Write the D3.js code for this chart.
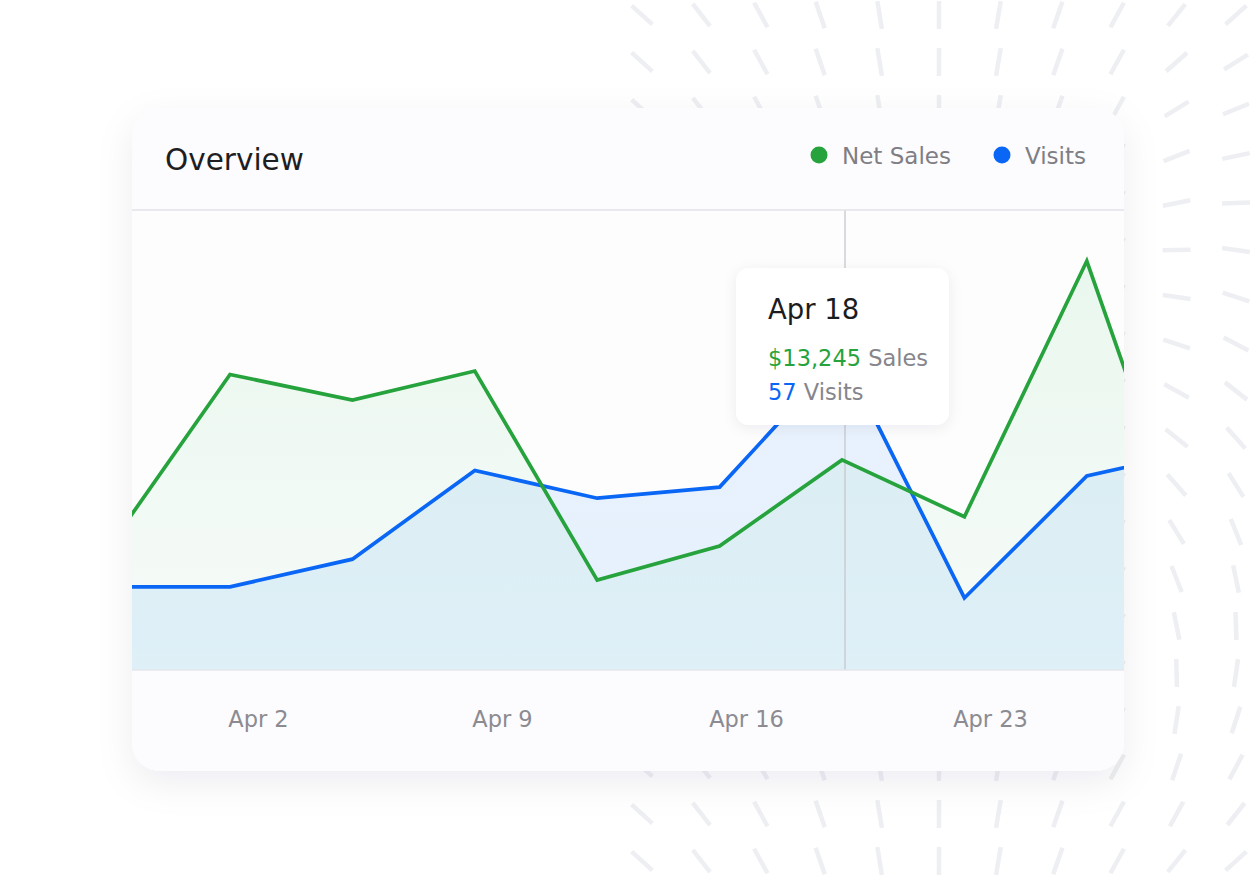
<!DOCTYPE html>
<html>
<head>
<meta charset="utf-8">
<script src="https://cdn.jsdelivr.net/npm/d3@7"></script>
<style>
  html, body { margin: 0; padding: 0; background: #ffffff; }
  svg { display: block; font-family: "DejaVu Sans", "Noto Sans", sans-serif; }
</style>
</head>
<body>
<svg id="chart" width="1256" height="880"></svg>
<script>
// ---------------- data ----------------
const pointIndex = [0, 1, 2, 3, 4, 5, 6, 7, 8, 9];
const netSales   = [7640, 18630, 17020, 18850, 5670, 7820, 13245, 9660, 25780, 3720];
const visits     = [15, 15, 20, 36, 31, 33, 57, 13, 35, 40];
const tickLabels = ["Apr 2", "Apr 9", "Apr 16", "Apr 23"];
const seriesNames = ["Net Sales", "Visits"];
const highlightIndex = 6;
const highlightLabel = "Apr 18";

// ---------------- layout ----------------
const W = 1256, H = 880;
const card = { x: 132, y: 108, w: 992, h: 663, r: 28 };
const plot = { left: 132, right: 1124, top: 210, bottom: 670 };
const colors = { sales: "#27a33d", visits: "#0a66f4" };

const svg = d3.select("#chart");
const defs = svg.append("defs");

// shadows
const cardShadow = defs.append("filter").attr("id", "cardShadow")
  .attr("x", "-10%").attr("y", "-10%").attr("width", "120%").attr("height", "125%");
cardShadow.append("feDropShadow").attr("dx", 0).attr("dy", 12)
  .attr("stdDeviation", 18).attr("flood-color", "#1a1a40").attr("flood-opacity", 0.07);

const tipShadow = defs.append("filter").attr("id", "tipShadow")
  .attr("x", "-20%").attr("y", "-20%").attr("width", "140%").attr("height", "150%");
tipShadow.append("feDropShadow").attr("dx", 0).attr("dy", 3)
  .attr("stdDeviation", 7).attr("flood-color", "#1a1a40").attr("flood-opacity", 0.07);

// gradients
const gGreen = defs.append("linearGradient").attr("id", "gGreen")
  .attr("gradientUnits", "userSpaceOnUse").attr("x1", 0).attr("x2", 0)
  .attr("y1", plot.top).attr("y2", plot.bottom);
gGreen.append("stop").attr("offset", 0).attr("stop-color", "rgb(40,190,80)").attr("stop-opacity", 0.10);
gGreen.append("stop").attr("offset", 1).attr("stop-color", "rgb(40,190,80)").attr("stop-opacity", 0.03);

const gBlue = defs.append("linearGradient").attr("id", "gBlue")
  .attr("gradientUnits", "userSpaceOnUse").attr("x1", 0).attr("x2", 0)
  .attr("y1", plot.top).attr("y2", plot.bottom);
gBlue.append("stop").attr("offset", 0).attr("stop-color", "rgb(0,100,255)").attr("stop-opacity", 0.065);
gBlue.append("stop").attr("offset", 1).attr("stop-color", "rgb(0,135,235)").attr("stop-opacity", 0.10);

defs.append("clipPath").attr("id", "plotClip")
  .append("rect").attr("x", plot.left).attr("y", plot.top)
  .attr("width", plot.right - plot.left).attr("height", plot.bottom - plot.top);

// ---------------- background dashes ----------------
const dashCols = d3.range(11).map(i => 642 + i * 59.4);
const dashRows = d3.range(19).map(i => 15 + i * 47);
const dashes = [];
dashRows.forEach(y => dashCols.forEach(x => {
  const u = (x - 938) / 298, v = (y - 15) / 845;
  const ang = 90 + 48 * u + (x > 1140 ? 180 * v : 0);
  dashes.push({ x, y, a: ang * Math.PI / 180 });
}));
const L = 14;
svg.append("g").selectAll("line").data(dashes).join("line")
  .attr("x1", d => d.x - L * Math.cos(d.a)).attr("y1", d => d.y - L * Math.sin(d.a))
  .attr("x2", d => d.x + L * Math.cos(d.a)).attr("y2", d => d.y + L * Math.sin(d.a))
  .attr("stroke", "#eeeff3").attr("stroke-width", 4.5).attr("stroke-linecap", "butt");

// ---------------- card ----------------
svg.append("rect")
  .attr("x", card.x).attr("y", card.y).attr("width", card.w).attr("height", card.h)
  .attr("rx", card.r).attr("fill", "#fcfbfd").attr("filter", "url(#cardShadow)");

svg.append("rect")
  .attr("x", plot.left).attr("y", plot.top)
  .attr("width", plot.right - plot.left).attr("height", plot.bottom - plot.top)
  .attr("fill", "#fdfdfe");

// title
svg.append("text").attr("x", 165).attr("y", 170)
  .attr("font-size", 29.5).attr("fill", "#1e1e22").text("Overview");

// legend
const legendX = [819, 1002];
const legendColors = [colors.sales, colors.visits];
const lg = svg.append("g").selectAll("g").data(seriesNames).join("g")
  .attr("transform", (d, i) => `translate(${legendX[i]},155)`);
lg.append("circle").attr("r", 8.5).attr("fill", (d, i) => legendColors[i]);
lg.append("text").attr("x", 23).attr("y", 9).attr("font-size", 23)
  .attr("fill", "#7e7e84").text(d => d);

// ---------------- scales ----------------
const x = d3.scaleLinear().domain([0, pointIndex.length - 1]).range([107.6, 1209.2]);
const ySales = d3.scaleLinear().domain([0, 29000]).range([plot.bottom, plot.top]);
const yVisits = d3.scaleLinear().domain([0, 83]).range([plot.bottom, plot.top]);
const xLabel = d3.scalePoint().domain(tickLabels).range([258, 990]);

const plotG = svg.append("g").attr("clip-path", "url(#plotClip)");

const salesArea = d3.area().x((d, i) => x(pointIndex[i])).y0(plot.bottom).y1(d => ySales(d));
const visitsArea = d3.area().x((d, i) => x(pointIndex[i])).y0(plot.bottom).y1(d => yVisits(d));
const salesLine = d3.line().x((d, i) => x(pointIndex[i])).y(d => ySales(d));
const visitsLine = d3.line().x((d, i) => x(pointIndex[i])).y(d => yVisits(d));

plotG.append("path").datum(netSales).attr("d", salesArea).attr("fill", "url(#gGreen)");
plotG.append("path").datum(visits).attr("d", visitsArea).attr("fill", "url(#gBlue)");

// hover rule
plotG.append("line")
  .attr("x1", x(highlightIndex) + 3).attr("x2", x(highlightIndex) + 3)
  .attr("y1", plot.top).attr("y2", plot.bottom)
  .attr("stroke", "#c6c6cc").attr("stroke-width", 1.3);

plotG.append("path").datum(visits).attr("d", visitsLine)
  .attr("fill", "none").attr("stroke", colors.visits).attr("stroke-width", 3.7)
  .attr("stroke-linejoin", "miter");
plotG.append("path").datum(netSales).attr("d", salesLine)
  .attr("fill", "none").attr("stroke", colors.sales).attr("stroke-width", 3.7)
  .attr("stroke-linejoin", "miter");

// dividers
svg.append("line").attr("x1", plot.left).attr("x2", plot.right)
  .attr("y1", plot.top).attr("y2", plot.top)
  .attr("stroke", "#e2e2e8").attr("stroke-width", 1.5);
svg.append("line").attr("x1", plot.left).attr("x2", plot.right)
  .attr("y1", plot.bottom).attr("y2", plot.bottom)
  .attr("stroke", "#e6e6ec").attr("stroke-width", 1.5);

// x axis
const axisG = svg.append("g").attr("transform", `translate(0,${plot.bottom})`)
  .call(d3.axisBottom(xLabel).tickSize(0).tickPadding(41));
axisG.select(".domain").remove();
axisG.selectAll("text").attr("font-size", 22.5).attr("fill", "#8b8b91")
  .attr("font-family", "DejaVu Sans, Noto Sans, sans-serif");

// ---------------- tooltip ----------------
const tip = svg.append("g").attr("transform", "translate(736,268)");
tip.append("rect").attr("width", 213).attr("height", 157).attr("rx", 13)
  .attr("fill", "#ffffff").attr("filter", "url(#tipShadow)");
tip.append("text").attr("x", 32).attr("y", 51).attr("font-size", 27.5)
  .attr("fill", "#1c1c20").text(highlightLabel);
const t1 = tip.append("text").attr("x", 32).attr("y", 98).attr("font-size", 22.5);
t1.append("tspan").attr("fill", colors.sales).text(d3.format("$,")(netSales[highlightIndex]));
t1.append("tspan").attr("fill", "#85858b").text(" Sales");
const t2 = tip.append("text").attr("x", 32).attr("y", 132).attr("font-size", 22.5);
t2.append("tspan").attr("fill", colors.visits).text(visits[highlightIndex]);
t2.append("tspan").attr("fill", "#85858b").text(" Visits");
</script>
</body>
</html>
